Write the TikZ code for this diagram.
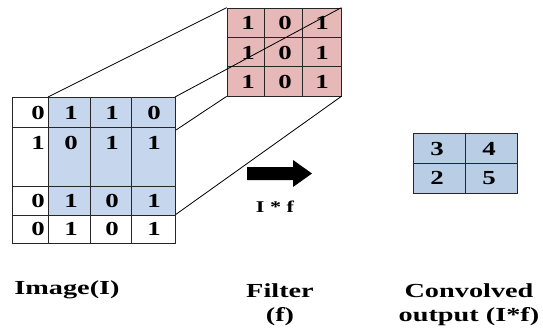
\documentclass[tikz,border=0pt]{standalone}
\usepackage{graphicx}
\usepackage{fontspec}
\setmainfont{Liberation Serif}
\usetikzlibrary{positioning}
\definecolor{patchblue}{RGB}{198,214,236}
\definecolor{filterpink}{RGB}{230,185,184}
\definecolor{outblue}{RGB}{185,205,229}
\newcommand{\wide}[1]{\scalebox{1.35}[1]{#1}}
\newcommand{\wider}[1]{\scalebox{1.42}[1]{#1}}

\begin{document}
\begin{tikzpicture}[
        x=0.03cm, y=-0.03cm,
        grid/.style={draw=black!85, line width=0.6pt},
        num/.style={font=\fontsize{17}{20}\selectfont\bfseries, inner sep=0pt},
        caption/.style={font=\fontsize{17}{20.5}\selectfont\bfseries, align=center, inner sep=0pt},
        edge/.style={draw=black, line width=0.7pt}
    ]
        \useasboundingbox (0,0) rectangle (543,333);

        % Filter
        \node[grid, fill=filterpink, minimum width=3.42cm, minimum height=2.64cm, inner sep=0pt] (filt) at (284,52) {};
        \draw[grid] (264,8) -- (264,96) (302,8) -- (302,96)
                    (227,37.3) -- (341,37.3) (227,66.7) -- (341,66.7);
        \foreach \r/\y in {1/23,2/53,3/82}
            \foreach \c/\v/\x in {1/1/248,2/0/285,3/1/322}
                \node[num] (f-\r-\c) at (\x,\y) {\wide{\v}};

        % Receptive field corners on the image
        \coordinate (pNW) at (48,97);
        \coordinate (pNE) at (175,97);
        \coordinate (pSW) at (48,215);
        \coordinate (pSE) at (175,215);

        % Projection lines
        \draw[edge] (pNW) -- (filt.north west);
        \draw[edge] (pNE) -- (filt.north east);
        \draw[edge] (pSW) -- (filt.south west);
        \draw[edge] (pSE) -- (filt.south east);

        % Image
        \fill[white] (12,97) rectangle (175,243);
        \fill[patchblue] (pNW) rectangle (pSE);
        \draw[grid] (12,97) rectangle (175,243);
        \draw[grid] (48,97) -- (48,243) (90,97) -- (90,243) (131,97) -- (131,243)
                    (12,127) -- (175,127) (12,186) -- (175,186) (12,215) -- (175,215);
        \foreach \r/\y/\vals in {1/113/{0,1,1,0},2/143/{1,0,1,1},3/201/{0,1,0,1},4/229/{0,1,0,1}}
            \foreach \v [count=\c] in \vals {
                \pgfmathsetmacro{\xx}{{38,71,112,154}[\c-1]}
                \node[num] (i-\r-\c) at (\xx,\y) {\wide{\v}};
            }

        % Convolution arrow
        \fill (247,167) -- (293,167) -- (293,160) -- (312,173.5) -- (293,187) -- (293,180) -- (247,180) -- cycle;
        \node[num, font=\fontsize{14}{17}\selectfont\bfseries] (op) at (275,207) {\wide{I * f}};

        % Output
        \node[grid, fill=outblue, minimum width=3.12cm, minimum height=1.8cm, inner sep=0pt] (out) at (465,163) {};
        \draw[grid] (out.north) -- (out.south) (out.west) -- (out.east);
        \node[num] (o-1) at (437,149) {\wide{3}};
        \node[num] (o-2) at (489,149) {\wide{4}};
        \node[num] (o-3) at (437,178) {\wide{2}};
        \node[num] (o-4) at (489,178) {\wide{5}};

        % Captions
        \node[caption] (imgcap) at (67,290) {\wider{Image(I)}};
        \node[caption] (filtcap) at (280,305) {\wider{Filter}\\\wider{(f)}};
        \node[caption] (outcap) at (469,305) {\wider{Convolved}\\\wider{output (I*f)}};
    \end{tikzpicture}
\end{document}
